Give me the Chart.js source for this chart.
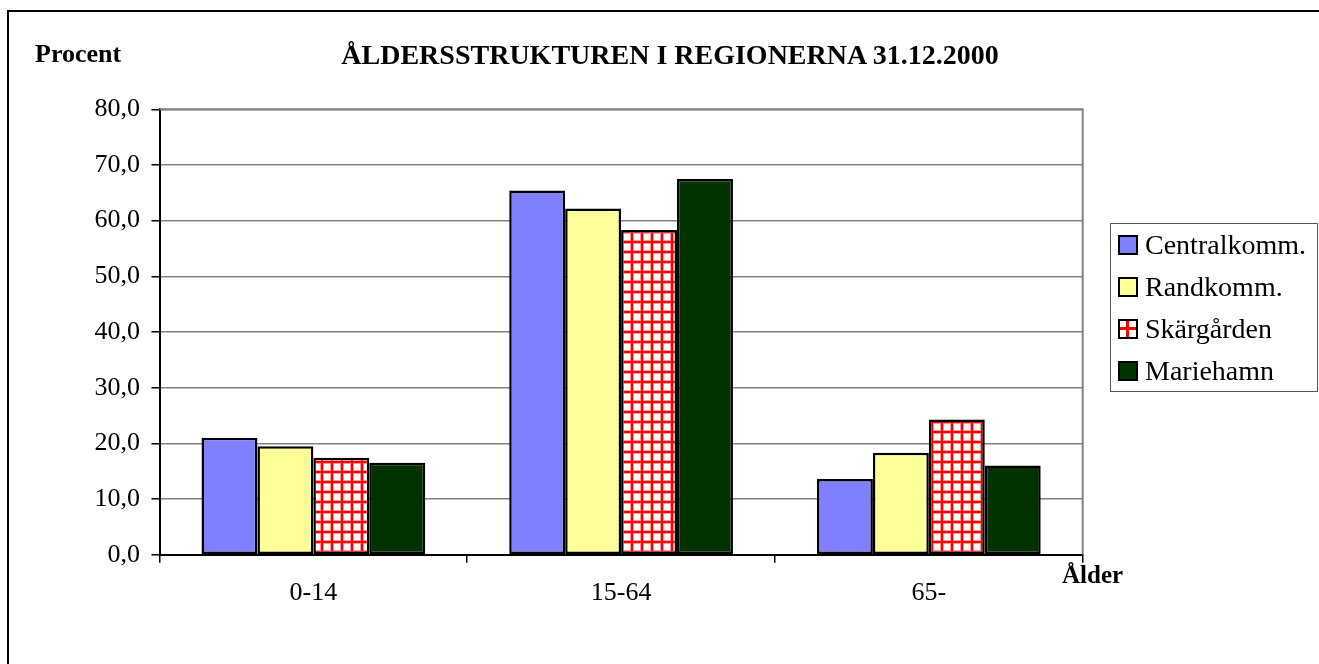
<!DOCTYPE html>
<html><head><meta charset="utf-8">
<script src="https://cdn.jsdelivr.net/npm/chart.js@4/dist/chart.umd.min.js"></script>
<style>
html,body{margin:0;padding:0;background:#fff;}
body{width:1319px;height:664px;position:relative;overflow:hidden;font-family:"Liberation Serif","Times New Roman",serif;color:#000;}
#frame{position:absolute;left:7px;top:10px;width:1400px;height:700px;border-top:2px solid #000;border-left:2px solid #000;}
canvas#c{position:absolute;left:0;top:0;}
.t{position:absolute;font-weight:bold;line-height:1;white-space:nowrap;}
#legend{position:absolute;left:1110px;top:223px;width:206px;height:167px;border:1.5px solid #555;}
.row{position:absolute;left:7px;height:42px;display:flex;align-items:center;font-size:28px;white-space:nowrap;}
.sw{width:16px;height:16px;border:2px solid #000;margin-right:7px;flex:none;}
</style></head>
<body>
<div id="frame"></div>
<canvas id="c" width="1319" height="664"></canvas>
<div class="t" id="ylab" style="left:35px;top:41px;font-size:26px;"></div>
<div class="t" id="title" style="left:0;width:1340px;text-align:center;top:40.5px;font-size:28px;"></div>
<div class="t" id="xlab" style="left:1062px;top:562px;font-size:25px;"></div>
<div id="legend"></div>
<script>
const titleText = 'ÅLDERSSTRUKTUREN I REGIONERNA 31.12.2000';
const yAxisTitle = 'Procent';
const xAxisTitle = 'Ålder';
const categories = ['0-14', '15-64', '65-'];
const seriesNames = ['Centralkomm.', 'Randkomm.', 'Skärgården', 'Mariehamn'];
const centralkomm = [21.0, 65.4, 13.6];
const randkomm = [19.5, 62.2, 18.3];
const skargarden = [17.4, 58.3, 24.3];
const mariehamn = [16.5, 67.5, 16.0];
const yMin = 0, yMax = 80, yStep = 10;

document.getElementById('title').textContent = titleText;
document.getElementById('ylab').textContent = yAxisTitle;
document.getElementById('xlab').textContent = xAxisTitle;

const canvas = document.getElementById('c');
const ctx = canvas.getContext('2d');

function gridPattern() {
  const p = document.createElement('canvas');
  p.width = 10; p.height = 10;
  const g = p.getContext('2d');
  g.fillStyle = '#fff'; g.fillRect(0, 0, 10, 10);
  g.fillStyle = '#ff9a9a'; g.fillRect(0, 0, 10, 4); g.fillRect(0, 0, 4, 10);
  g.fillStyle = '#ff0000'; g.fillRect(0, 1, 10, 2); g.fillRect(1, 0, 2, 10);
  return ctx.createPattern(p, 'repeat');
}

const fills = ['#8080ff', '#ffff99', gridPattern(), '#003300'];
const cssFills = ['#8080ff', '#ffff99',
  'linear-gradient(90deg, transparent 6px, #f00 6px, #f00 9px, transparent 9px), linear-gradient(transparent 6px, #f00 6px, #f00 9px, transparent 9px) #fff',
  '#003300'];
const seriesData = [centralkomm, randkomm, skargarden, mariehamn];

const legend = document.getElementById('legend');
seriesNames.forEach((name, i) => {
  const row = document.createElement('div');
  row.className = 'row';
  row.style.top = (-0.5 + i * 42.2) + 'px';
  const sw = document.createElement('span');
  sw.className = 'sw';
  sw.style.background = cssFills[i];
  const tx = document.createElement('span');
  tx.textContent = name;
  row.appendChild(sw); row.appendChild(tx);
  legend.appendChild(row);
});

const areaBorder = {
  id: 'areaBorder',
  beforeDatasetsDraw(chart) {
    const { ctx, chartArea: a } = chart;
    ctx.save();
    ctx.strokeStyle = '#808080';
    ctx.lineWidth = 2;
    ctx.beginPath();
    ctx.moveTo(a.left, a.top);
    ctx.lineTo(a.right, a.top);
    ctx.lineTo(a.right, a.bottom);
    ctx.stroke();
    ctx.restore();
  }
};

const font = { family: "'Liberation Serif', 'Times New Roman', serif", size: 26 };

new Chart(ctx, {
  type: 'bar',
  data: {
    labels: categories,
    datasets: seriesNames.map((name, i) => ({
      label: name,
      data: seriesData[i],
      backgroundColor: fills[i],
      borderColor: '#000',
      borderWidth: 2.5,
      borderSkipped: false,
      categoryPercentage: 0.727,
      barPercentage: 1.0
    }))
  },
  options: {
    responsive: false,
    animation: false,
    devicePixelRatio: 1,
    layout: { padding: { left: 59.5, top: 109.3, right: 236.3, bottom: 49.3 } },
    plugins: { legend: { display: false }, title: { display: false }, tooltip: { enabled: false } },
    scales: {
      x: {
        grid: { display: true, drawOnChartArea: false, offset: true, tickLength: 8, tickColor: '#000', lineWidth: 1.5 },
        border: { display: true, color: '#000', width: 2 },
        ticks: { font: font, color: '#000', padding: 15, maxRotation: 0 },
        afterFit(s) { s.height = 60; }
      },
      y: {
        min: yMin, max: yMax,
        ticks: { stepSize: yStep, font: font, color: '#000', padding: 11.5,
          callback: v => Number(v).toFixed(1).replace('.', ',') },
        grid: { color: '#808080', lineWidth: 1.5, tickLength: 8, tickColor: '#000' },
        border: { color: '#000', width: 2 },
        afterFit(s) { s.width = 100; }
      }
    }
  },
  plugins: [areaBorder]
});
</script>
</body></html>
